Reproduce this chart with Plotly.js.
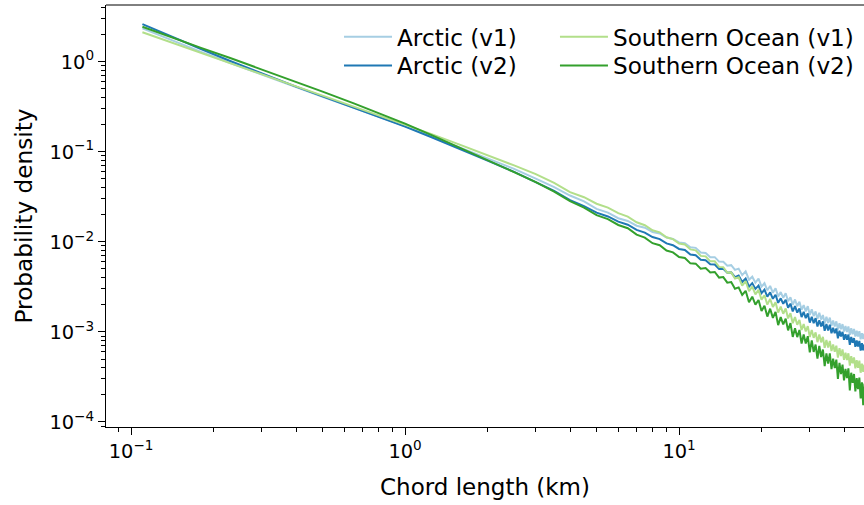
<!DOCTYPE html>
<html><head><meta charset="utf-8">
<script src="https://cdn.plot.ly/plotly-3.0.1.min.js"></script>
<style>html,body{margin:0;padding:0;background:#fff}#chart{width:864px;height:505px}</style>
</head><body><div id="chart"></div>
<script>
// Chord length (km)
const chordLength = [0.11,0.14,0.18,0.23,0.3,0.4,0.5,0.65,0.8,1.0,1.25,1.6,2.0,2.5,3.0,
 3.5,4.0,4.5,5.0,5.5,6.0,6.5,7.0,7.5,8.0,8.5,9.0,9.5,10,
 10.5,11,11.5,12,12.5,13,13.5,14,14.5,15,15.5,16,16.5,17,17.5,18,18.5,19,19.5,20,
 20.5,21,21.5,22,22.5,23,23.5,24,24.5,25,25.5,26,26.5,27,27.5,28,28.5,29,29.5,30,
 30.5,31,31.5,32,32.5,33,33.5,34,34.5,35,35.5,36,36.5,37,37.5,38,38.5,39,39.5,40,
 40.5,41,41.5,42,42.5,43,43.5,44,44.5,45,45.5,46,46.5,47,47.5,48];

const arcticV1 = [2.35,1.742,1.288,0.967,0.715,0.5195,0.4074,0.3074,0.2461,0.1930,0.1483,0.1099,0.0840,0.0646,0.0504,
 0.0405,0.0327,0.0281,0.0232,0.0211,0.0183,0.01706,0.0151,0.01435,0.01288,0.01239,0.01117,0.01076,0.00984,
 9.66e-3,8.71e-3,8.57e-3,7.60e-3,7.52e-3,6.76e-3,6.76e-3,6.03e-3,6.00e-3,5.42e-3,5.51e-3,4.88e-3,5.04e-3,4.27e-3,4.70e-3,3.80e-3,4.10e-3,3.52e-3,3.90e-3,3.18e-3,
 3.47e-3,2.90e-3,3.24e-3,2.72e-3,3.05e-3,2.48e-3,2.77e-3,2.39e-3,2.69e-3,2.19e-3,
 2.43e-3,2.00e-3,2.29e-3,1.93e-3,2.16e-3,1.76e-3,1.98e-3,1.69e-3,1.93e-3,1.54e-3,
 1.78e-3,1.50e-3,1.69e-3,1.39e-3,1.63e-3,1.37e-3,1.54e-3,1.25e-3,1.47e-3,1.26e-3,
 1.44e-3,1.17e-3,1.34e-3,1.15e-3,1.31e-3,1.06e-3,1.25e-3,1.07e-3,1.22e-3,1.01e-3,
 1.16e-3,1.00e-3,1.15e-3,9.29e-4,1.10e-3,9.44e-4,1.08e-3,8.87e-4,1.03e-3,8.91e-4,
 1.02e-3,8.28e-4,9.70e-4,8.34e-4,9.55e-4,8.22e-4];

const arcticV2 = [2.62,1.905,1.384,1.018,0.739,0.530,0.4126,0.3098,0.2461,0.1905,0.1449,0.1066,0.0798,0.0598,0.0461,
 0.0369,0.0291,0.02495,0.0211,0.01914,0.01675,0.01549,0.01358,0.01268,0.0113,0.01074,0.00962,0.00918,0.00834,
 8.13e-3,7.24e-3,7.10e-3,6.31e-3,6.25e-3,5.65e-3,5.61e-3,4.99e-3,5.01e-3,4.53e-3,4.58e-3,4.05e-3,4.22e-3,3.58e-3,3.92e-3,3.18e-3,3.48e-3,3.00e-3,3.26e-3,2.69e-3,
 2.94e-3,2.46e-3,2.75e-3,2.33e-3,2.59e-3,2.10e-3,2.36e-3,2.05e-3,2.28e-3,1.86e-3,
 2.06e-3,1.69e-3,1.93e-3,1.64e-3,1.82e-3,1.46e-3,1.67e-3,1.42e-3,1.60e-3,1.27e-3,
 1.47e-3,1.25e-3,1.42e-3,1.15e-3,1.35e-3,1.15e-3,1.31e-3,1.03e-3,1.22e-3,1.04e-3,
 1.20e-3,9.64e-4,1.11e-3,9.66e-4,1.09e-3,8.47e-4,1.03e-3,8.91e-4,1.00e-3,8.17e-4,
 9.40e-4,8.20e-4,9.35e-4,7.19e-4,8.77e-4,7.59e-4,8.55e-4,6.82e-4,8.04e-4,6.87e-4,
 7.94e-4,6.19e-4,7.48e-4,6.25e-4,7.23e-4,6.32e-4];

const southernV1 = [2.122,1.634,1.256,0.967,0.726,0.533,0.4201,0.3178,0.2557,0.2015,0.1573,0.1187,0.0919,0.0706,0.0565,
 0.0452,0.0356,0.0313,0.0265,0.0240,0.0208,0.0191,0.0165,0.0153,0.01343,0.01276,0.01125,0.01072,0.00959,
 9.35e-3,8.24e-3,8.04e-3,6.98e-3,6.90e-3,6.07e-3,6.07e-3,5.27e-3,5.22e-3,4.54e-3,4.58e-3,3.92e-3,4.04e-3,3.26e-3,3.67e-3,2.84e-3,3.18e-3,2.61e-3,2.93e-3,2.28e-3,
 2.55e-3,2.01e-3,2.33e-3,1.89e-3,2.14e-3,1.64e-3,1.91e-3,1.59e-3,1.82e-3,1.41e-3,
 1.61e-3,1.25e-3,1.46e-3,1.20e-3,1.36e-3,1.05e-3,1.22e-3,1.01e-3,1.16e-3,8.77e-4,
 1.05e-3,8.59e-4,9.89e-4,7.69e-4,9.38e-4,7.66e-4,8.81e-4,6.65e-4,8.13e-4,6.71e-4,
 7.94e-4,6.14e-4,7.26e-4,6.01e-4,7.03e-4,5.19e-4,6.59e-4,5.40e-4,6.40e-4,4.90e-4,
 5.87e-4,4.88e-4,5.79e-4,4.23e-4,5.38e-4,4.47e-4,5.20e-4,3.94e-4,4.84e-4,3.98e-4,
 4.79e-4,3.52e-4,4.43e-4,3.60e-4,4.34e-4,3.53e-4];

const southernV2 = [2.448,1.866,1.427,1.099,0.823,0.598,0.4654,0.3449,0.2705,0.2057,0.1533,0.1100,0.0809,0.0595,0.0461,
 0.03615,0.0283,0.0240,0.0198,0.0179,0.0154,0.01416,0.01202,0.01114,0.00966,0.00918,0.0080,0.00764,0.00679,
 6.61e-3,5.77e-3,5.73e-3,5.04e-3,5.11e-3,4.57e-3,4.63e-3,4.01e-3,4.06e-3,3.52e-3,3.57e-3,3.01e-3,3.12e-3,2.57e-3,2.86e-3,2.13e-3,2.46e-3,2.01e-3,2.26e-3,1.71e-3,
 1.95e-3,1.48e-3,1.81e-3,1.43e-3,1.67e-3,1.19e-3,1.46e-3,1.21e-3,1.40e-3,1.04e-3,
 1.25e-3,8.79e-4,1.10e-3,8.75e-4,1.05e-3,7.43e-4,9.35e-4,7.43e-4,8.95e-4,5.93e-4,
 8.04e-4,6.00e-4,7.24e-4,5.05e-4,7.01e-4,5.25e-4,6.37e-4,4.16e-4,5.78e-4,4.44e-4,
 5.78e-4,3.86e-4,5.04e-4,3.96e-4,4.93e-4,3.01e-4,4.52e-4,3.40e-4,4.34e-4,2.90e-4,
 3.89e-4,3.07e-4,3.93e-4,2.24e-4,3.52e-4,2.72e-4,3.41e-4,2.19e-4,3.07e-4,2.32e-4,
 3.11e-4,1.82e-4,2.75e-4,1.54e-4,2.67e-4,2.02e-4];

const seriesNames = ['Arctic (v1)', 'Arctic (v2)', 'Southern Ocean (v1)', 'Southern Ocean (v2)'];
const seriesColors = ['#a6cee3', '#1f78b4', '#b2df8a', '#33a02c'];

const xTickVals = [0.1, 1, 10];
const xTickText = ['10<sup>\u22121</sup>', '10<sup>0</sup>', '10<sup>1</sup>'];
const xMinorVals = [0.09,0.2,0.3,0.4,0.5,0.6,0.7,0.8,0.9,2,3,4,5,6,7,8,9,20,30,40];
const yTickVals = [1e-4, 1e-3, 1e-2, 1e-1, 1];
const yTickText = ['10<sup>\u22124</sup>', '10<sup>\u22123</sup>', '10<sup>\u22122</sup>', '10<sup>\u22121</sup>', '10<sup>0</sup>'];
const yMinorVals = [9e-5,2e-4,3e-4,4e-4,5e-4,6e-4,7e-4,8e-4,9e-4,2e-3,3e-3,4e-3,5e-3,6e-3,7e-3,8e-3,9e-3,
 0.02,0.03,0.04,0.05,0.06,0.07,0.08,0.09,0.2,0.3,0.4,0.5,0.6,0.7,0.8,0.9,2,3,4];

const ys = [arcticV1, arcticV2, southernV1, southernV2];
const legendIds = ['legend', 'legend2', 'legend3', 'legend4'];
const traces = ys.map((y, i) => ({
  type: 'scatter', mode: 'lines', x: chordLength, y: y, name: seriesNames[i],
  line: {color: seriesColors[i], width: 2}, legend: legendIds[i]
}));

const axisCommon = {
  type: 'log', showgrid: false, zeroline: false, showline: true, linecolor: '#000', linewidth: 1,
  ticks: 'outside', ticklen: 7, tickwidth: 1, tickcolor: '#000', tickmode: 'array',
  tickfont: {family: 'DejaVu Sans', size: 19.4, color: '#000'}, automargin: false
};
const legendCommon = {
  xanchor: 'left', yanchor: 'top', bgcolor: 'rgba(0,0,0,0)', borderwidth: 0, itemwidth: 48,
  font: {family: 'DejaVu Sans', size: 23.2, color: '#000'}, orientation: 'v', tracegroupgap: 0
};

const layout = {
  width: 864, height: 505,
  margin: {l: 106, r: 0, t: 5, b: 78, pad: 0},
  paper_bgcolor: '#fff', plot_bgcolor: '#fff',
  font: {family: 'DejaVu Sans', color: '#000'},
  showlegend: true,
  xaxis: Object.assign({}, axisCommon, {
    range: [-1.0915, 1.675], tickvals: xTickVals, ticktext: xTickText,
    minor: {tickmode: 'array', tickvals: xMinorVals, ticks: 'outside', ticklen: 4, tickwidth: 1, tickcolor: '#000', showgrid: false},
    title: {text: 'Chord length (km)', font: {family: 'DejaVu Sans', size: 23, color: '#000'}, standoff: 16}
  }),
  yaxis: Object.assign({}, axisCommon, {
    range: [-4.056, 0.630], tickvals: yTickVals, ticktext: yTickText,
    minor: {tickmode: 'array', tickvals: yMinorVals, ticks: 'outside', ticklen: 4, tickwidth: 1, tickcolor: '#000', showgrid: false},
    title: {text: 'Probability density', font: {family: 'DejaVu Sans', size: 23.2, color: '#000'}, standoff: 10}
  }),
  shapes: [{type: 'line', xref: 'paper', yref: 'paper', x0: 0, x1: 1, y0: 1, y1: 1, line: {color: '#000', width: 1}, layer: 'above'}],
  legend: Object.assign({}, legendCommon, {x: 0.3074, y: 0.976}),
  legend2: Object.assign({}, legendCommon, {x: 0.3074, y: 0.908}),
  legend3: Object.assign({}, legendCommon, {x: 0.5923, y: 0.976}),
  legend4: Object.assign({}, legendCommon, {x: 0.5923, y: 0.908})
};

Plotly.newPlot('chart', traces, layout, {displayModeBar: false, staticPlot: true});
</script>
</body></html>
